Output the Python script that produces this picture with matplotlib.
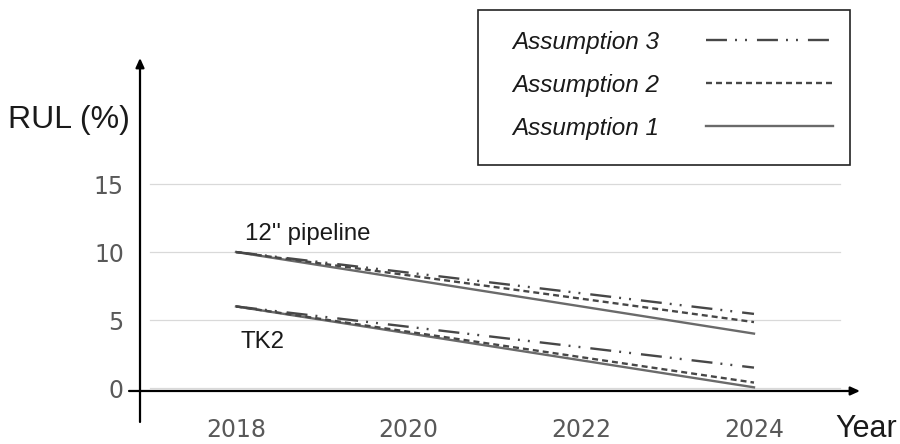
import matplotlib
matplotlib.use("Agg")
import matplotlib.pyplot as plt
from matplotlib.lines import Line2D
from matplotlib.patches import Rectangle

plt.rcParams['lines.scale_dashes'] = False

# ---- data ----
years = [2018, 2024]
pipeline_a1 = [10.0, 4.0]
pipeline_a2 = [10.0, 4.85]
pipeline_a3 = [10.0, 5.45]
tk2_a1 = [6.0, 0.05]
tk2_a2 = [6.0, 0.4]
tk2_a3 = [6.0, 1.5]

xticks = [2018, 2020, 2022, 2024]
xtick_labels = ["2018", "2020", "2022", "2024"]
yticks = [0, 5, 10, 15]
ytick_labels = ["0", "5", "10", "15"]
legend_labels = ["Assumption 3", "Assumption 2", "Assumption 1"]

# ---- styles ----
col_solid = "#6a6a6a"
col_dash = "#474747"
lw = 1.7
style_a1 = dict(color=col_solid, lw=lw, linestyle="-")
style_a2 = dict(color=col_dash, lw=lw, dashes=(4.3, 2.9))
style_a3 = dict(color=col_dash, lw=lw, dashes=(15.1, 5.8, 1.4, 5.8, 1.4, 7.2))

W, H = 900, 444
fig = plt.figure(figsize=(9, 4.44), dpi=100)
ax = fig.add_axes([128 / W, 1 - 415 / H, 732 / W, 360 / H])
ax.set_xlim(2016.749, 2025.228)
ax.set_ylim(-1.985, 24.49)
for s in ax.spines.values():
    s.set_visible(False)

# gridlines
for yv in yticks:
    ax.axhline(yv, xmin=0.030, xmax=0.9727, color="#d9d9d9", lw=0.9, zorder=0)

# series
ax.plot(years, pipeline_a1, **style_a1)
ax.plot(years, pipeline_a2, **style_a2)
ax.plot(years, pipeline_a3, **style_a3)
ax.plot(years, tk2_a1, **style_a1)
ax.plot(years, tk2_a2, **style_a2)
ax.plot(years, tk2_a3, **style_a3)

# axes arrows
arrow = dict(arrowstyle="-|>,head_length=0.55,head_width=0.25", color="black",
             lw=1.6, shrinkA=0, shrinkB=0)
ax.annotate("", xy=(0.0164, 0.9917), xytext=(0.0164, -0.0194),
            xycoords="axes fraction", textcoords="axes fraction",
            arrowprops=arrow, annotation_clip=False)
ax.annotate("", xy=(1.0, 0.0667), xytext=(0.0014, 0.0667),
            xycoords="axes fraction", textcoords="axes fraction",
            arrowprops=arrow, annotation_clip=False)

# ticks
ax.set_xticks(xticks)
ax.set_xticklabels(xtick_labels)
ax.set_yticks(yticks)
ax.set_yticklabels(ytick_labels)
ax.tick_params(axis="both", length=0, labelsize=17, labelcolor="#595959")
ax.tick_params(axis="x", pad=2)
ax.tick_params(axis="y", pad=3)

# annotations
ax.text(2018.1, 10.9, "12'' pipeline", fontsize=17.3, family="Liberation Sans",
        color="#1a1a1a", va="baseline", ha="left")
ax.text(2018.05, 2.94, "TK2", fontsize=17.3, family="Liberation Sans",
        color="#1a1a1a", va="baseline", ha="left")

fig.text(8 / W, 1 - 128 / H, "RUL (%)", fontsize=23, family="Liberation Sans",
         color="#1a1a1a", va="baseline", ha="left")
fig.text(835 / W, 1 - 437 / H, "Year", fontsize=22, family="Liberation Sans",
         color="#1a1a1a", va="baseline", ha="left")

# legend
handles = [Line2D([], [], **style_a3), Line2D([], [], **style_a2), Line2D([], [], **style_a1)]
leg = fig.legend(handles, legend_labels, loc="upper left",
                 bbox_to_anchor=(512 / W, 1 - 31 / H), frameon=False,
                 markerfirst=False, borderpad=0, borderaxespad=0,
                 handlelength=5.2, handletextpad=1.95, labelspacing=0.82,
                 prop=dict(family="Liberation Sans", style="italic", size=17.5))
for t in leg.get_texts():
    t.set_color("#1a1a1a")
fig.add_artist(Rectangle((478 / W, 1 - 165 / H), (850 - 478) / W, 155 / H,
                         transform=fig.transFigure, fill=False,
                         edgecolor="#222222", lw=1.2))

fig.savefig("out.png", dpi=100)
